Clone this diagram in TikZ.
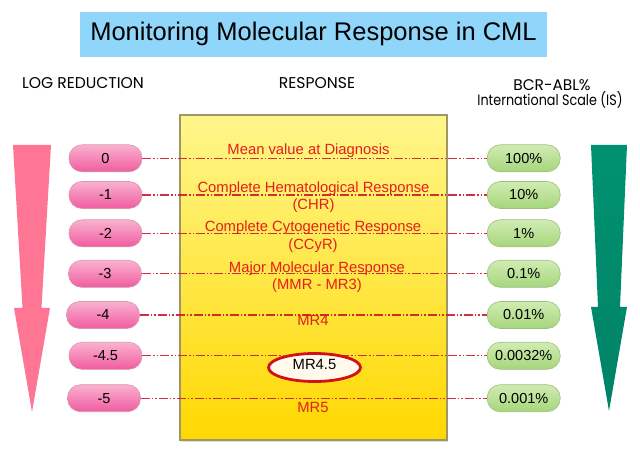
\documentclass[tikz,border=0pt]{standalone}
\usepackage{fontspec}
\setmainfont{Liberation Sans}
\newfontfamily\headfont{Poppins}
\usetikzlibrary{shapes.geometric,shadows}
\definecolor{titleblue}{RGB}{143,214,250}
\definecolor{pinkarrow}{RGB}{255,118,148}
\definecolor{greentop}{RGB}{0,146,112}
\definecolor{greenmid}{RGB}{0,206,150}
\definecolor{greenbot}{RGB}{0,130,102}
\definecolor{yellowtop}{RGB}{255,246,140}
\definecolor{yellowbot}{RGB}{255,216,0}
\definecolor{boxborder}{RGB}{160,150,100}
\definecolor{pinktop}{RGB}{250,178,208}
\definecolor{pinkbot}{RGB}{240,92,160}
\definecolor{pinkborder}{RGB}{215,150,170}
\definecolor{greenpilltop}{RGB}{208,236,178}
\definecolor{greenpillbot}{RGB}{166,214,124}
\definecolor{greenborder}{RGB}{160,190,130}
\definecolor{connred}{RGB}{205,25,45}
\definecolor{textred}{RGB}{228,30,28}
\definecolor{ellred}{RGB}{210,16,24}
\definecolor{cream}{RGB}{255,250,236}
\tikzset{
  header/.style={anchor=base, inner sep=0pt},
  pill/.style={rectangle, rounded corners=13pt, minimum width=73pt, minimum height=27pt,
    inner sep=0pt, line width=0.6pt, font=\fontsize{14.5}{17}\selectfont},
  logpill/.style={pill, top color=pinktop, bottom color=pinkbot, draw=pinkborder},
  ispill/.style={pill, top color=greenpilltop, bottom color=greenpillbot, draw=greenborder},
  conn/.style={draw=connred, line width=1.1pt, opacity=0.9,
    dash pattern=on 9pt off 2pt on 1.5pt off 2pt on 1.5pt off 2pt},
  resptext/.style={text=textred, anchor=base, inner sep=0pt, font=\fontsize{14.8}{17}\selectfont},
}
\begin{document}
\begin{tikzpicture}[x=1pt,y=-1pt]
\useasboundingbox (0,0) rectangle (640,454);
% title
\node[fill=titleblue, minimum width=467pt, minimum height=45pt, inner sep=0pt,
  text height=18.5pt, text depth=5.5pt, font=\fontsize{25.5}{30}\selectfont] (title) at (313.5,34.5)
  {Monitoring Molecular Response in CML};
% headers
\node[header, font=\headfont\fontsize{15.6}{18}\selectfont] (hlog) at (83,89) {LOG REDUCTION};
\node[header, font=\headfont\fontsize{15.6}{18}\selectfont] (hresp) at (317,89) {RESPONSE};
\node[header, font=\headfont\fontsize{15.4}{18}\selectfont] (hbcr) at (552,90.5) {BCR-ABL\%};
\node[header, font=\headfont\fontsize{15}{18}\selectfont] (his) at (550,105.5)
  {\scalebox{0.85}[1]{International Scale (IS)}};
% arrows
\fill[pinkarrow] (13,145) -- (51,145) -- (41.5,308) -- (50,308) -- (32,412) -- (14,308) -- (22.5,308) -- cycle;
\shade[top color=greentop, middle color=greenmid, bottom color=greenbot]
  (591,145) -- (627,145) -- (620,307) -- (627,307) -- (609,411) -- (591,307) -- (598,307) -- cycle;
% response box
\node[draw=boxborder, line width=1.1pt, top color=yellowtop, bottom color=yellowbot,
  minimum width=267pt, minimum height=325pt, inner sep=0pt,
  drop shadow={shadow xshift=1pt, shadow yshift=-1.5pt, opacity=0.25}] (resp) at (313.5,277.5) {};
% log pills
\node[logpill] (l0) at (105.5,158.3) {0};
\node[logpill] (l1) at (105.5,195) {-1};
\node[logpill] (l2) at (105.5,233.3) {-2};
\node[logpill] (l3) at (105,273.8) {-3};
\node[logpill] (l4) at (103,315) {-4};
\node[logpill] (l45) at (105.5,355.8) {-4.5};
\node[logpill] (l5) at (104,398.2) {-5};
% IS pills
\node[ispill] (r0) at (523.7,158.3) {100\%};
\node[ispill] (r1) at (523.7,195) {10\%};
\node[ispill] (r2) at (523.7,233.3) {1\%};
\node[ispill] (r3) at (523.7,273.8) {0.1\%};
\node[ispill] (r4) at (523.7,315) {0.01\%};
\node[ispill] (r45) at (523.7,355.8) {0.0032\%};
\node[ispill] (r5) at (523.7,398.2) {0.001\%};
% connectors
\foreach \n in {0,1,2,3,4,45,5} { \draw[conn] (l\n.east) -- (r\n.west); }
% response texts
\node[resptext] (t0) at (308.5,155) {Mean value at Diagnosis};
\node[resptext] (t1) at (313.5,192.5) {Complete Hematological Response};
\node[resptext] (t1b) at (313.5,209.5) {(CHR)};
\node[resptext] (t2) at (313,232) {Complete Cytogenetic Response};
\node[resptext] (t2b) at (313,249.5) {(CCyR)};
\node[resptext] (t3) at (317,272.5) {Major Molecular Response};
\node[resptext] (t3b) at (317,289.5) {(MMR - MR3)};
\node[resptext] (t4) at (313,325.5) {MR4};
\node[ellipse, draw=ellred, line width=2.8pt, fill=cream, minimum width=92pt, minimum height=28pt,
  inner sep=0pt, text depth=7pt, font=\fontsize{14.8}{17}\selectfont] (mr45) at (314.5,367.5) {MR4.5};
\node[resptext] (t5) at (313,412.5) {MR5};
\end{tikzpicture}
\end{document}
